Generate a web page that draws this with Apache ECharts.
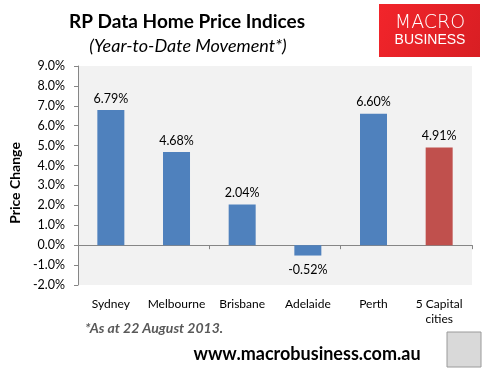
<!DOCTYPE html>
<html>
<head>
<meta charset="utf-8">
<script src="https://cdn.jsdelivr.net/npm/echarts@6/dist/echarts.min.js"></script>
<style>html,body{margin:0;padding:0;background:#fff;}#c{width:492px;height:374px;}</style>
</head>
<body>
<div id="c"></div>
<script>
const categories = ['Sydney', 'Melbourne', 'Brisbane', 'Adelaide', 'Perth', '5 Capital\ncities'];
const values = [6.79, 4.68, 2.04, -0.52, 6.60, 4.91];
const barColors = ['#4F81BD', '#4F81BD', '#4F81BD', '#4F81BD', '#4F81BD', '#C0504D'];
const yMin = -2, yMax = 9, yStep = 1;

const font = 'Lato, "Open Sans", sans-serif';
const chart = echarts.init(document.getElementById('c'));
chart.setOption({
  animation: false,
  title: [
    { text: 'RP Data Home Price Indices', left: 182, top: 7, textAlign: 'center',
      textStyle: { fontFamily: font, fontWeight: 'bold', fontSize: 19, color: '#000' } },
    { text: '(Year-to-Date Movement*)', left: 183, top: 32, textAlign: 'center',
      textStyle: { fontFamily: font, fontStyle: 'italic', fontWeight: 'normal', fontSize: 18, color: '#000' } }
  ],
  grid: { left: 70, right: 20, top: 66, bottom: 89, show: true, backgroundColor: '#F2F2F2', borderWidth: 0 },
  xAxis: [
    { type: 'category', data: categories, position: 'bottom',
      axisLine: { show: false, onZero: false }, axisTick: { show: false },
      axisLabel: { margin: 12, fontFamily: font, fontSize: 12, color: '#000', lineHeight: 15, interval: 0 } },
    { type: 'category', data: categories, position: 'bottom',
      axisLine: { show: true, onZero: true, lineStyle: { color: '#868686', width: 1 } },
      axisTick: { show: true, length: 4, lineStyle: { color: '#868686' } },
      axisLabel: { show: false } }
  ],
  yAxis: {
    type: 'value', min: yMin, max: yMax, interval: yStep,
    name: 'Price Change', nameLocation: 'middle', nameGap: 55, nameRotate: 90,
    nameTextStyle: { fontFamily: font, fontWeight: 'bold', fontSize: 14, color: '#000', padding: [0, 15, 0, 0] },
    axisLine: { show: true, lineStyle: { color: '#868686' } },
    axisTick: { show: true, length: 4, lineStyle: { color: '#868686' } },
    splitLine: { show: false },
    axisLabel: { margin: 13, fontFamily: font, fontSize: 12.5, color: '#000',
      formatter: v => v.toFixed(1) + '%' }
  },
  series: [{
    type: 'bar', xAxisIndex: 0, barWidth: 27,
    data: values.map((v, i) => ({
      value: v,
      itemStyle: { color: barColors[i] },
      label: { position: v < 0 ? 'bottom' : 'top', distance: v < 0 ? 8 : 5 }
    })),
    label: { show: true, fontFamily: font, fontSize: 12.5, color: '#000',
      formatter: p => p.value.toFixed(2) + '%' }
  }],
  graphic: [
    { type: 'rect', shape: { x: 379, y: 4, width: 101, height: 53 },
      style: { fill: new echarts.graphic.LinearGradient(0, 0, 1, 1, [
        { offset: 0, color: '#F2252B' }, { offset: 1, color: '#D81E23' }]) } },
    { type: 'text', x: 430, y: 23, style: { text: 'MACRO', fill: '#fff', font: '200 19px "DejaVu Sans", "Liberation Sans", sans-serif', textAlign: 'center', textVerticalAlign: 'middle' } },
    { type: 'text', x: 430, y: 40, style: { text: 'BUSINESS', fill: '#fff', font: '14px "Liberation Sans", sans-serif', textAlign: 'center', textVerticalAlign: 'middle' } },
    { type: 'text', x: 85, y: 328, style: { text: '*As at 22 August 2013.', fill: '#595959', font: 'italic bold 14px ' + font, textVerticalAlign: 'middle' } },
    { type: 'text', x: 307, y: 354, style: { text: 'www.macrobusiness.com.au', fill: '#000', font: 'bold 18px ' + font, textAlign: 'center', textVerticalAlign: 'middle' } },
    { type: 'rect', shape: { x: 447, y: 332, width: 34, height: 35 },
      style: { fill: '#D9D9D9', stroke: '#9A9A9A', lineWidth: 1 } }
  ]
});
</script>
</body>
</html>
